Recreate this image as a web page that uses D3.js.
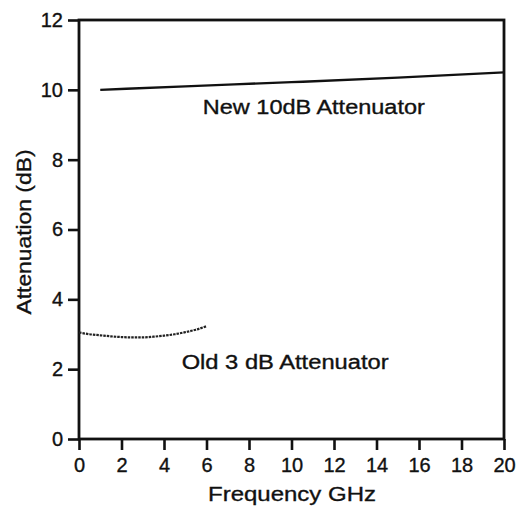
<!DOCTYPE html>
<html><head><meta charset="utf-8">
<script src="https://cdn.jsdelivr.net/npm/d3@7"></script>
<style>body{margin:0;background:#fff}text{font-family:"Liberation Sans",Arial,sans-serif;fill:#111;stroke:#111;stroke-width:0.35px}</style>
</head><body>
<svg id="c" width="521" height="510"></svg>
<script>
const xTicks = [0,2,4,6,8,10,12,14,16,18,20];
const yTicks = [0,2,4,6,8,10,12];
const newFreq = [1,5,10,15,20];
const newAtt = [10.0,10.1,10.22,10.35,10.5];
const oldFreq = [0,0.5,1,1.5,2,2.5,3,3.5,4,4.5,5,5.5,6];
const oldAtt = [3.05,3.0,2.97,2.94,2.92,2.91,2.91,2.93,2.96,3.0,3.06,3.13,3.23];
const labels = [{text:"New 10dB Attenuator", x:11.05, y:9.3, len:222},{text:"Old 3 dB Attenuator", x:9.7, y:2.0, len:207}];

const svg = d3.select("#c");
const m = {l:79,r:504,t:20,b:439};
const x = d3.scaleLinear().domain([0,20]).range([m.l,m.r]);
const y = d3.scaleLinear().domain([0,12]).range([m.b,m.t]);

svg.append("rect").attr("x",m.l).attr("y",m.t).attr("width",m.r-m.l).attr("height",m.b-m.t)
  .attr("fill","none").attr("stroke","#111").attr("stroke-width",2.8);

const xa = svg.append("g").attr("transform",`translate(0,${m.b})`)
  .call(d3.axisBottom(x).tickValues(xTicks).tickSize(11).tickPadding(8).tickFormat(d3.format("d")));
const ya = svg.append("g").attr("transform",`translate(${m.l},0)`)
  .call(d3.axisLeft(y).tickValues(yTicks).tickSize(11).tickPadding(5).tickFormat(d3.format("d")));
[xa,ya].forEach(a=>{
  a.select(".domain").remove();
  a.selectAll(".tick line").attr("stroke","#111").attr("stroke-width",2.6);
  a.selectAll(".tick text").style("font-size","20px").attr("fill","#111");
});

const line = d3.line().x(d=>x(d[0])).y(d=>y(d[1])).curve(d3.curveMonotoneX);
svg.append("path").datum(newFreq.map((f,i)=>[f,newAtt[i]]))
  .attr("d",line).attr("fill","none").attr("stroke","#111").attr("stroke-width",2.4);
svg.append("path").datum(oldFreq.map((f,i)=>[f,oldAtt[i]]))
  .attr("d",line).attr("fill","none").attr("stroke","#222").attr("stroke-width",2.2)
  .attr("stroke-dasharray","2.5,1");

labels.forEach(l=>svg.append("text").attr("x",x(l.x)).attr("y",y(l.y))
  .attr("text-anchor","middle").style("font-size","20px")
  .attr("textLength",l.len).attr("lengthAdjust","spacingAndGlyphs").text(l.text));

svg.append("text").attr("x",292).attr("y",501).attr("text-anchor","middle")
  .style("font-size","21px").attr("textLength",168).attr("lengthAdjust","spacingAndGlyphs").text("Frequency GHz");
svg.append("text").attr("transform","translate(31,232) rotate(-90)").attr("text-anchor","middle")
  .style("font-size","21px").attr("textLength",165).attr("lengthAdjust","spacingAndGlyphs").text("Attenuation (dB)");
</script>
</body></html>
